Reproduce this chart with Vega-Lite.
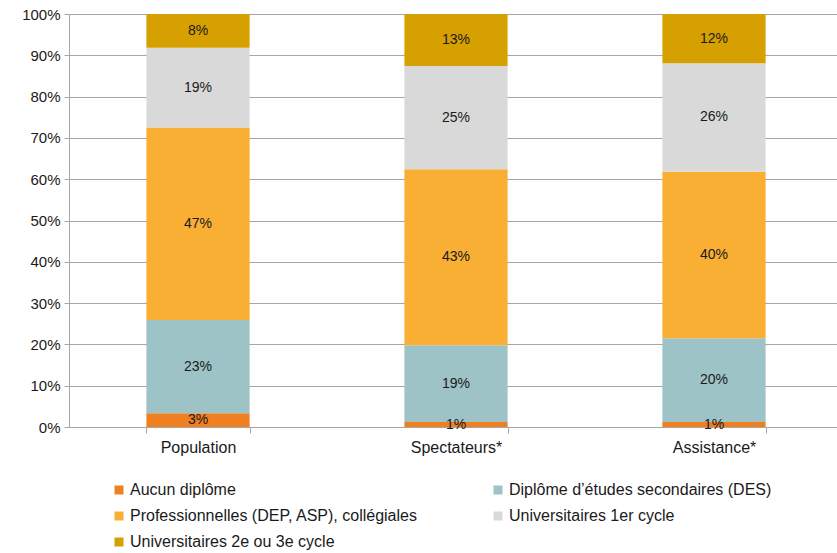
{
  "$schema": "https://vega.github.io/schema/vega-lite/v6.json",
  "autosize": {"type": "none"},
  "padding": {"left": 69, "top": 14, "right": 0, "bottom": 126},
  "width": 774,
  "height": 413,
  "background": "white",
  "config": {
    "font": "Liberation Sans",
    "view": {"stroke": null}
  },
  "data": {
    "values": [
      {"groupe": "Population", "niveau": "Aucun diplôme", "rang": 1, "v": 3.3},
      {"groupe": "Population", "niveau": "Diplôme d’études secondaires (DES)", "rang": 2, "v": 22.6},
      {"groupe": "Population", "niveau": "Professionnelles (DEP, ASP), collégiales", "rang": 3, "v": 46.6},
      {"groupe": "Population", "niveau": "Universitaires 1er cycle", "rang": 4, "v": 19.3},
      {"groupe": "Population", "niveau": "Universitaires 2e ou 3e cycle", "rang": 5, "v": 8.2},
      {"groupe": "Spectateurs*", "niveau": "Aucun diplôme", "rang": 1, "v": 1.2},
      {"groupe": "Spectateurs*", "niveau": "Diplôme d’études secondaires (DES)", "rang": 2, "v": 18.6},
      {"groupe": "Spectateurs*", "niveau": "Professionnelles (DEP, ASP), collégiales", "rang": 3, "v": 42.6},
      {"groupe": "Spectateurs*", "niveau": "Universitaires 1er cycle", "rang": 4, "v": 25.0},
      {"groupe": "Spectateurs*", "niveau": "Universitaires 2e ou 3e cycle", "rang": 5, "v": 12.6},
      {"groupe": "Assistance*", "niveau": "Aucun diplôme", "rang": 1, "v": 1.2},
      {"groupe": "Assistance*", "niveau": "Diplôme d’études secondaires (DES)", "rang": 2, "v": 20.3},
      {"groupe": "Assistance*", "niveau": "Professionnelles (DEP, ASP), collégiales", "rang": 3, "v": 40.3},
      {"groupe": "Assistance*", "niveau": "Universitaires 1er cycle", "rang": 4, "v": 26.3},
      {"groupe": "Assistance*", "niveau": "Universitaires 2e ou 3e cycle", "rang": 5, "v": 11.9}
    ]
  },
  "transform": [
    {"stack": "v", "groupby": ["groupe"], "sort": [{"field": "rang", "order": "ascending"}], "as": ["v0", "v1"]},
    {"calculate": "(datum.v0 + datum.v1) / 2", "as": "mid"},
    {"calculate": "format(datum.v, '.0f') + '%'", "as": "etiquette"}
  ],
  "encoding": {
    "x": {
      "field": "groupe",
      "type": "nominal",
      "sort": ["Population", "Spectateurs*", "Assistance*"],
      "scale": {"paddingInner": 0.6, "paddingOuter": 0.3},
      "axis": {
        "title": null,
        "labelAngle": 0,
        "labelFontSize": 16,
        "labelColor": "#1a1a1a",
        "labelPadding": 6,
        "tickBand": "extent",
        "tickSize": 6,
        "tickColor": "#a6a6a6",
        "domainColor": "#a6a6a6",
        "grid": false
      }
    }
  },
  "layer": [
    {
      "mark": {"type": "bar"},
      "encoding": {
        "y": {
          "field": "v0",
          "type": "quantitative",
          "scale": {"domain": [0, 100], "nice": false},
          "axis": {
            "title": null,
            "values": [0, 10, 20, 30, 40, 50, 60, 70, 80, 90, 100],
            "labelExpr": "datum.value + '%'",
            "labelFontSize": 15,
            "labelColor": "#1a1a1a",
            "labelPadding": 4,
            "tickSize": 5,
            "tickColor": "#a6a6a6",
            "domainColor": "#a6a6a6",
            "gridColor": "#a6a6a6",
            "grid": true
          }
        },
        "y2": {"field": "v1"},
        "color": {
          "field": "niveau",
          "type": "nominal",
          "sort": ["Aucun diplôme", "Diplôme d’études secondaires (DES)", "Professionnelles (DEP, ASP), collégiales", "Universitaires 1er cycle", "Universitaires 2e ou 3e cycle"],
          "scale": {
            "domain": ["Aucun diplôme", "Diplôme d’études secondaires (DES)", "Professionnelles (DEP, ASP), collégiales", "Universitaires 1er cycle", "Universitaires 2e ou 3e cycle"],
            "range": ["#f07f22", "#9dc3c6", "#f9ae34", "#d9d9d9", "#d6a000"]
          },
          "legend": {
            "title": null,
            "orient": "none",
            "legendX": 42,
            "legendY": 468,
            "direction": "horizontal",
            "columns": 2,
            "columnPadding": 72,
            "rowPadding": 10,
            "symbolType": "square",
            "symbolSize": 81,
            "symbolStrokeWidth": 0,
            "symbolOffset": 0,
            "labelFontSize": 16,
            "labelColor": "#1a1a1a",
            "labelOffset": 3,
            "labelLimit": 400
          }
        }
      }
    },
    {
      "mark": {"type": "text", "fontSize": 14, "color": "#1a1a1a", "baseline": "middle"},
      "encoding": {
        "y": {"field": "mid", "type": "quantitative"},
        "text": {"field": "etiquette"}
      }
    }
  ]
}
